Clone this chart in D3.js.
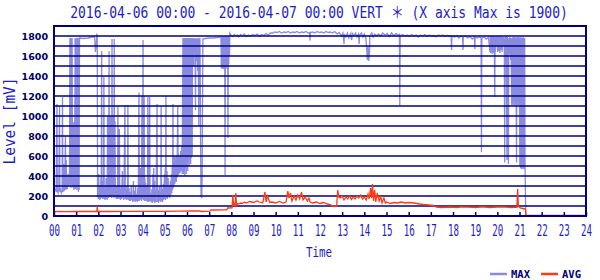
<!DOCTYPE html>
<html>
<head>
<meta charset="utf-8">
<script src="https://cdn.jsdelivr.net/npm/d3@7"></script>
<style>
  body { margin: 0; background: #fff; }
  svg { display: block; }
</style>
</head>
<body>
<div id="chart"></div>
<script>
// Data (time in minutes from 00:00, value in mV)

    var hourLabels = ["00","01","02","03","04","05","06","07","08","09","10","11","12",
                      "13","14","15","16","17","18","19","20","21","22","23","24"];
    var levelTicks = [0, 200, 400, 600, 800, 1000, 1200, 1400, 1600, 1800];

    var maxData = [
        [0,290],[2,260],[4,270],[6,240],[8,1120],[9,250],[11,230],[13,270],[15,1100],[16,240],[18,260],[20,230],
        [22,250],[23,1190],[24,240],[26,520],[27,250],[29,280],[31,800],[32,260],[33,560],[34,300],[36,270],
        [38,420],[39,300],[41,330],[42,450],
        [43,1780],[44,300],[45,1780],[46,280],[47,1770],[48,320],[49,1780],[50,300],[51,940],[52,280],[53,900],
        [54,260],[55,940],[56,300],[57,1780],[58,270],[59,1770],[60,300],[61,1780],[62,260],[63,1780],[64,300],
        [65,1780],[66,240],[67,1780],[68,260],[69,1780],
        [70,1780],[80,1775],[92,1780],[104,1790],[110,1790],[112,1640],[114,1700],[116,1825],[117,1800],[118,190],
        [119,230],[120,170],[121,420],[122,180],[123,300],[124,160],[125,260],[126,170],[127,400],[128,180],
        [129,1650],[130,200],[131,350],[132,170],[133,250],[134,180],[135,1390],[136,170],[137,300],[138,160],
        [139,220],[140,170],[141,380],[142,180],[143,260],[144,160],
        [145,1000],[146,200],[147,980],[148,180],[149,1650],[150,200],[151,1000],[152,190],[153,1000],[154,200],
        [155,980],[156,180],[157,1770],[158,200],[159,1000],[160,190],[161,990],[162,180],[163,1770],[164,200],
        [165,950],[166,190],
        [167,230],[168,170],[169,300],[170,180],[171,250],[172,170],[173,1100],[174,180],[175,350],[176,170],
        [177,870],[178,180],[179,260],[180,160],[182,300],[183,170],[185,450],[186,180],[188,280],[189,160],
        [192,1110],[193,170],[195,300],[196,160],[198,260],[199,170],[200,1110],[201,160],[203,280],[204,150],
        [206,240],[207,150],[209,300],[210,160],[212,200],[213,140],[215,350],[216,150],[218,250],[219,140],
        [221,300],[222,150],[224,220],[225,140],[227,280],[228,150],[230,1235],[231,150],
        [232,430],[233,160],[234,480],[235,170],[236,400],[237,150],[238,1200],[239,170],[240,450],[241,1760],
        [242,160],[243,420],[244,1200],[245,150],[246,380],[247,170],[248,330],[249,150],[250,300],[251,160],
        [252,250],[253,140],[254,1190],[255,150],[256,280],[257,140],[259,1190],[260,150],
        [262,230],[263,140],[265,270],[266,130],[268,420],[269,150],[270,480],[271,140],[272,350],[273,130],
        [275,250],[276,140],[279,1120],[280,140],[282,260],[283,130],[285,300],[286,150],[288,240],[289,140],
        [290,1100],[291,150],[293,270],[294,140],[296,320],[297,160],[299,420],[300,170],[301,480],[302,160],
        [303,1200],[304,180],[306,450],[307,170],[309,380],[310,200],[312,300],[313,180],[315,350],[316,200],
        [318,420],[319,230],[320,500],[321,260],[322,1120],[323,280],[324,550],[325,300],[326,600],[327,320],
        [328,520],[329,350],[330,600],[331,340],[332,580],[333,380],[335,1100],[336,400],[337,620],[338,420],
        [340,600],[341,430],[343,650],[344,450],[346,700],[347,420],
        [349,1780],[350,420],[351,1775],[352,450],[353,1780],[354,400],[355,1780],[356,480],[357,1770],[358,420],
        [359,1780],[360,520],[361,1780],[362,450],[363,1775],[364,560],[365,1780],[366,500],[367,1780],[368,570],
        [369,1780],[370,520],[371,1770],[372,580],[373,1780],[374,600],[375,1780],
        [376,1600],[377,1780],[378,1500],[379,1775],[381,1650],[382,1780],[383,1060],[384,1770],[386,1550],
        [387,1780],[389,1450],[390,1780],[392,900],[393,1760],[395,1780],[396,1300],[397,600],[398,200],
        [400,180],[401,420],[403,1770],
        [410,1775],[420,1780],[432,1780],[442,1785],[452,1790],
        [453,1480],[454,1790],[455,1470],[456,1800],[457,1500],[458,1790],[459,1470],[460,1800],[461,1480],
        [462,1790],[463,410],[464,1800],[465,1470],[466,1790],[467,1500],[468,1800],[469,1480],[470,1790],
        [471,780],[472,1800],[473,1520],[474,1790],[475,1600],[476,1830],
        [480,1805],[484,1795],[488,1815],[492,1800],[496,1810],[500,1790],[505,1815],[510,1800],[515,1820],
        [520,1795],[526,1810],[532,1800],[538,1815],[544,1805],[550,1820],[556,1800],[562,1815],[568,1805],
        [574,1825],[580,1810],[586,1830],
        [592,1830],[598,1840],[604,1835],[610,1845],[616,1830],[622,1840],[628,1835],[634,1845],[640,1830],
        [646,1840],[652,1835],[658,1845],[664,1830],[670,1840],[676,1835],[682,1845],[688,1830],[692,1835],
        [693,1754],[694,1835],[700,1840],[706,1830],[712,1845],[718,1835],[724,1840],[730,1830],[736,1845],
        [742,1835],[748,1840],[754,1830],[760,1845],[766,1820],[772,1835],
        [778,1800],[782,1830],[785,1720],[786,1820],[790,1790],[794,1830],[798,1780],[802,1820],[806,1760],
        [807,1830],[812,1800],[816,1830],[820,1790],[824,1820],[826,1720],[827,1810],[832,1830],[836,1790],
        [840,1820],[844,1780],[847,1640],[848,1560],[850,1700],[852,1550],[854,1640],[855,1800],[860,1830],
        [864,1790],[868,1820],[872,1800],
        [878,1820],[884,1800],[890,1830],[896,1810],[902,1825],[908,1795],[914,1830],[920,1800],[926,1825],
        [932,1805],[935,1815],[936,1106],[937,1800],
        [944,1815],[950,1800],[956,1810],[962,1795],[968,1815],[974,1800],[980,1810],[986,1790],[992,1810],
        [998,1800],[1004,1815],[1010,1795],[1016,1810],[1022,1800],[1028,1805],[1034,1790],[1040,1810],
        [1046,1800],[1052,1810],[1058,1795],[1064,1805],[1070,1800],
        [1075,1800],[1076,1660],[1077,1800],[1084,1790],[1090,1805],[1096,1780],[1102,1800],[1106,1790],
        [1107,1660],[1108,1790],[1114,1800],[1120,1780],[1126,1795],[1132,1770],[1138,1790],[1139,1670],
        [1140,1790],[1146,1780],[1152,1790],[1156,1780],[1157,637],[1158,1780],[1164,1790],[1170,1770],
        [1176,1790],
        [1180,1640],[1181,1800],[1182,1630],[1183,1790],[1184,1650],[1185,1800],[1186,1620],[1187,1790],
        [1188,1640],[1189,1800],[1190,1630],[1191,1790],[1192,1650],[1193,1190],[1194,1800],[1195,1640],
        [1196,1790],[1198,1700],[1199,1800],[1201,1640],[1202,1790],[1204,1650],[1205,1800],[1207,1630],
        [1208,1790],[1210,1660],[1211,1800],[1213,1640],[1214,1790],
        [1216,1700],[1217,1790],[1219,1650],[1220,536],[1221,1790],[1223,1640],[1224,1800],[1226,560],
        [1227,1790],[1229,1650],[1230,520],[1231,1780],[1233,1620],[1234,1790],[1236,1560],[1237,1780],
        [1239,1110],[1240,1780],[1241,1120],[1242,1790],[1243,1106],[1244,1780],[1245,1150],[1246,1790],
        [1247,1110],[1248,1780],[1249,1130],[1250,1790],[1251,1120],[1252,536],[1253,1780],[1254,1110],
        [1255,1790],[1256,1140],[1257,1780],[1258,1110],[1259,1790],[1260,1120],[1261,503],
        [1262,1780],[1263,480],[1264,1790],[1265,470],[1266,1780],[1267,490],[1268,1780],[1269,470],
        [1270,1790],[1271,480],[1272,1780],[1273,470],[1274,1780],[1275,480],[1277,0],[1440,0]
    ];

    var avgData = [
        [0,45],[30,44],[60,46],[90,45],[116,45],[117,95],[118,46],[150,45],[200,47],[250,46],[300,47],
        [340,48],[370,50],[395,50],[400,45],[422,48],[425,60],[468,62],[470,80],[482,82],[484,210],[486,110],
        [488,120],[490,105],[492,230],[494,110],[497,125],[500,120],[505,130],[510,125],[515,140],[520,130],
        [530,145],[540,135],[550,150],[556,140],[565,130],[571,240],[574,140],[578,200],[584,135],[590,140],
        [600,130],[610,145],[620,130],[628,140],[633,250],[636,180],[640,230],[644,150],[650,200],[655,160],
        [660,210],[665,170],[670,240],[674,160],[680,190],[686,150],[690,180],[693,140],[700,130],[710,140],
        [720,125],[730,135],[740,120],[748,115],[752,100],[758,95],[765,100],[768,260],[771,190],[775,180],
        [780,200],[785,160],[790,190],[795,170],[800,200],[805,165],[810,190],[815,170],[820,200],[825,180],
        [830,210],[835,170],[840,190],[845,160],[850,220],[853,170],[857,280],[860,180],[862,320],[865,150],
        [868,260],[871,140],[875,230],[880,150],[884,200],[888,130],[893,180],[897,130],[900,140],[910,125],
        [920,135],[930,130],[940,140],[950,130],[960,135],[975,130],[990,120],[1000,115],[1015,110],
        [1026,105],[1035,90],[1050,85],[1070,90],[1090,85],[1100,90],[1120,88],[1140,85],[1160,92],
        [1180,85],[1200,90],[1220,88],[1240,85],[1250,88],[1253,85],[1255,270],[1257,100],[1262,80],
        [1270,75],[1276,70],[1278,5],[1440,5]
    ];

// Constants setup

    var svgWidth = 600;
    var svgHeight = 280;
    var margin = { top: 26, right: 14, bottom: 64, left: 54 };
    var width = svgWidth - margin.left - margin.right,
        height = svgHeight - margin.top - margin.bottom;

    var navy = "#000080";
    var textBlue = "#1c1cc8";
    var maxColor = "#8a8ae0";
    var avgColor = "#ff3a10";
    var monoFont = "'DejaVu Sans Mono', 'Liberation Mono', monospace";

// Start of SVG

    var svg = d3.select("#chart")
        .append("svg")
            .attr("width", svgWidth)
            .attr("height", svgHeight);

    var plot = svg.append("g")
        .attr("transform", `translate(${margin.left}, ${margin.top})`);

    // scales
    var x = d3.scaleLinear().domain([0, 1440]).range([0, width]);
    var y = d3.scaleLinear().domain([0, 1900]).range([height, 0]);

    // MAX series
    var line = d3.line()
        .x(function(d) { return x(d[0]); })
        .y(function(d) { return y(d[1]); });

    plot.append("path")
        .datum(maxData)
        .attr("d", line)
        .attr("fill", "none")
        .attr("stroke", maxColor)
        .attr("stroke-width", 1.3);

    // horizontal grid every 100 mV
    plot.append("g")
        .selectAll("line")
        .data(d3.range(100, 1900, 100))
        .join("line")
            .attr("x1", 0)
            .attr("x2", width)
            .attr("y1", function(d) { return y(d); })
            .attr("y2", function(d) { return y(d); })
            .attr("stroke", navy)
            .attr("stroke-width", 1.5);

    // AVG series
    plot.append("path")
        .datum(avgData)
        .attr("d", line)
        .attr("fill", "none")
        .attr("stroke", avgColor)
        .attr("stroke-width", 1.3);

    // X axis: ticks point up into the plot
    var xAxis = d3.axisBottom(x)
        .tickValues(d3.range(0, 1441, 60))
        .tickSize(-4)
        .tickFormat(function(d, i) { return hourLabels[i]; });

    var gx = plot.append("g")
        .attr("transform", "translate(0," + height + ")")
        .call(xAxis);
    gx.select(".domain").remove();
    gx.selectAll(".tick line").attr("stroke", navy).attr("stroke-width", 1.5);
    gx.selectAll(".tick text")
        .attr("y", 20)
        .attr("dy", 0)
        .attr("fill", textBlue)
        .style("font-family", monoFont)
        .style("font-size", "15px")
        .attr("textLength", 11)
        .attr("lengthAdjust", "spacingAndGlyphs");

    // Y axis labels only
    var yAxis = d3.axisLeft(y)
        .tickValues(levelTicks)
        .tickSize(0)
        .tickPadding(6)
        .tickFormat(d3.format("d"));
    var gy = plot.append("g").call(yAxis);
    gy.select(".domain").remove();
    gy.selectAll(".tick text")
        .attr("fill", "#000066")
        .style("font-family", "'DejaVu Sans', sans-serif")
        .style("font-weight", "bold")
        .style("font-size", "9.5px");

    // frame
    plot.append("rect")
        .attr("x", 0)
        .attr("y", 0)
        .attr("width", width)
        .attr("height", height)
        .attr("fill", "none")
        .attr("stroke", navy)
        .attr("stroke-width", 2);

    // title: one text, squeezed horizontally to the reference width
    var title = svg.append("text")
        .attr("x", 0)
        .attr("y", 0)
        .attr("text-anchor", "middle")
        .attr("fill", textBlue)
        .style("font-family", "'DejaVu Sans Mono', 'Noto Sans CJK JP', monospace")
        .style("font-size", "16px")
        .text("2016-04-06 00:00 - 2016-04-07 00:00 VERT \uFF0A (X axis Max is 1900)");
    var titleScale = 498 / title.node().getComputedTextLength();
    title.attr("transform", "translate(319,18) scale(" + titleScale + ",1)");

    // axis titles
    svg.append("text")
        .attr("transform", "translate(15,121) rotate(-90)")
        .attr("text-anchor", "middle")
        .attr("fill", textBlue)
        .style("font-family", monoFont)
        .style("font-size", "15px")
        .attr("textLength", 87)
        .attr("lengthAdjust", "spacingAndGlyphs")
        .text("Level [mV]");

    svg.append("text")
        .attr("x", 319)
        .attr("y", 257)
        .attr("text-anchor", "middle")
        .attr("fill", textBlue)
        .style("font-family", monoFont)
        .style("font-size", "14px")
        .attr("textLength", 26)
        .attr("lengthAdjust", "spacingAndGlyphs")
        .text("Time");

    // legend
    var legendItems = [
        { name: "MAX", color: maxColor, x: 490 },
        { name: "AVG", color: avgColor, x: 541 }
    ];
    var legend = svg.append("g")
        .selectAll("g")
        .data(legendItems)
        .join("g")
            .attr("transform", function(d) { return "translate(" + d.x + ",274)"; });
    legend.append("line")
        .attr("x1", 0).attr("x2", 17)
        .attr("stroke", function(d) { return d.color; })
        .attr("stroke-width", 2.5);
    legend.append("text")
        .attr("x", 21)
        .attr("y", 4)
        .attr("fill", navy)
        .style("font-family", monoFont)
        .style("font-weight", "bold")
        .style("font-size", "10px")
        .attr("textLength", 19)
        .attr("lengthAdjust", "spacingAndGlyphs")
        .text(function(d) { return d.name; });
</script>
</body>
</html>
